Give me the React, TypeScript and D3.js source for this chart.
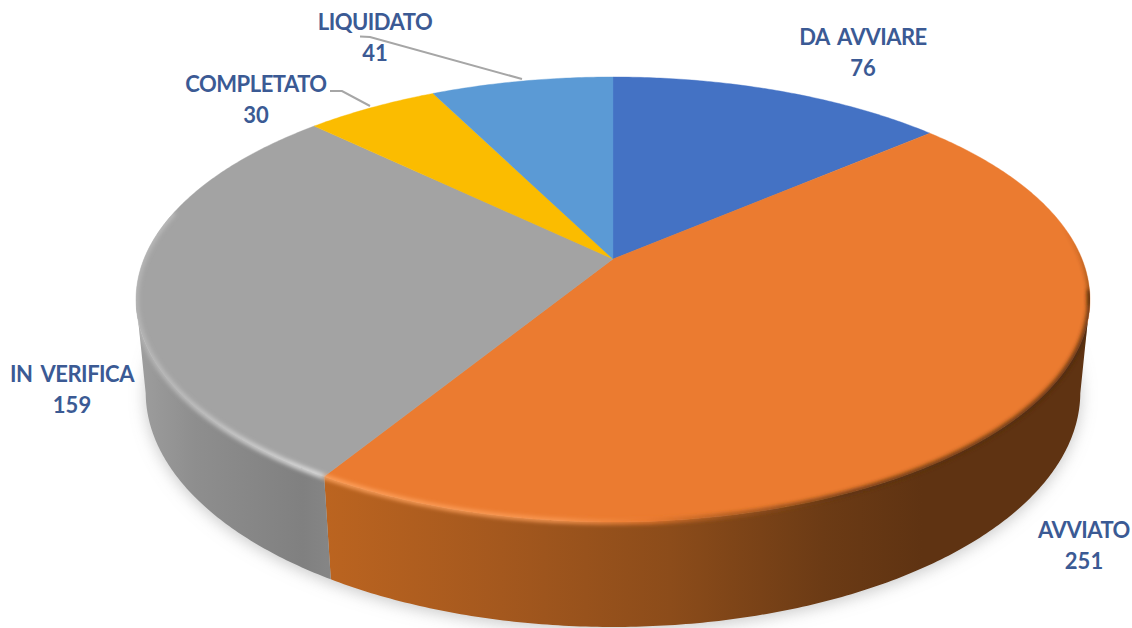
import React from "react";
import * as d3 from "d3";

const categories = ["DA AVVIARE", "AVVIATO", "IN VERIFICA", "COMPLETATO", "LIQUIDATO"];
const values = [76, 251, 159, 30, 41];
const palette = ["#4472c4", "#eb7b30", "#a3a3a3", "#fbbc00", "#5b9ad5"];
const labelCentres: [number, number][] = [[863, 37], [1084, 530], [72, 374], [256, 84], [375, 22]];
const leaderLines: ([number, number][] | null)[] = [
  null, null, null,
  [[330, 91], [342, 91], [370, 106]],
  [[360, 36.5], [370, 37], [522, 79]],
];

const W = 1132, H = 628;
const CX = 613, R = 469, APEX_Y = 259, A = 168, C = -0.182, DROP = 98.4, DEPTH = 0.02;

// circle -> screen, with the perspective of the tilted 3D pie; h = 0 top rim, 1 bottom rim
const project = (theta: number, h: number): [number, number] => {
  const u = Math.sin(theta), v = -Math.cos(theta);
  const d = 1 + C * v + DEPTH * h;
  return [CX + (R * u) / d, (A * v + APEX_Y + DROP * h) / d];
};
const line = d3.line<[number, number]>().x(p => p[0]).y(p => p[1]);
const arcPoints = (a0: number, a1: number, h: number) =>
  d3.range(0, 1.0001, 1 / Math.max(2, Math.ceil(Math.abs(a1 - a0) / 0.01))).map(t => project(a0 + (a1 - a0) * t, h));
const deg = (d: number) => (d * Math.PI) / 180;

const arcs = d3.pie<number>().sort(null)(values);
// only the front of the wall can be seen; its ends are the silhouette of the drum
const FRONT_START = deg(100.5), FRONT_END = deg(259.5);

export default function App() {
  const bottomDisc = line(arcPoints(0, Math.PI * 2, 1))! + "Z";
  const topDisc = line(arcPoints(0, Math.PI * 2, 0))! + "Z";
  const frontWall = line([...arcPoints(FRONT_START, FRONT_END, 0), ...arcPoints(FRONT_START, FRONT_END, 1).reverse()])! + "Z";
  const [a1, a2] = [arcs[1], arcs[2]];
  return (
    <svg width={W} height={H} style={{ position: "fixed", left: 0, top: 0, background: "#fff" }}>
      <defs>
        <clipPath id="drum">
          <path d={topDisc} />
          <path d={frontWall} />
        </clipPath>
        <filter id="shadow" x="-10%" y="-10%" width="120%" height="130%">
          <feGaussianBlur stdDeviation="8" />
        </filter>
        <filter id="soft" x="-5%" y="-5%" width="110%" height="110%">
          <feGaussianBlur stdDeviation="2.2" />
        </filter>
        <linearGradient id="side1" gradientUnits="userSpaceOnUse" x1="326" x2="1090" y1="0" y2="0">
          <stop offset="0" stopColor="#bb6420" />
          <stop offset="0.23" stopColor="#a4581e" />
          <stop offset="0.45" stopColor="#8c4c1a" />
          <stop offset="0.65" stopColor="#6c3b15" />
          <stop offset="0.78" stopColor="#5f3312" />
          <stop offset="1" stopColor="#5f3312" />
        </linearGradient>
        <linearGradient id="side2" gradientUnits="userSpaceOnUse" x1="136" x2="332" y1="0" y2="0">
          <stop offset="0" stopColor="#9e9e9e" />
          <stop offset="0.3" stopColor="#8e8e8e" />
          <stop offset="0.85" stopColor="#808080" />
          <stop offset="1" stopColor="#868686" />
        </linearGradient>
        <linearGradient id="rimOrange" gradientUnits="userSpaceOnUse" x1="326" x2="1090" y1="0" y2="0">
          <stop offset="0" stopColor="#ffa460" />
          <stop offset="0.3" stopColor="#fa9a55" />
          <stop offset="0.42" stopColor="#eb7b30" />
          <stop offset="0.52" stopColor="#a85a20" />
          <stop offset="0.68" stopColor="#5f3312" />
          <stop offset="1" stopColor="#4f2a0e" />
        </linearGradient>
        <linearGradient id="rimDark" gradientUnits="userSpaceOnUse" x1="0" x2="0" y1="225" y2="310">
          <stop offset="0" stopColor="#5f3312" stopOpacity="0" />
          <stop offset="1" stopColor="#4f2a0e" />
        </linearGradient>
        <linearGradient id="rimGrey" gradientUnits="userSpaceOnUse" x1="136" x2="326" y1="0" y2="0">
          <stop offset="0" stopColor="#c4c4c4" stopOpacity="0.6" />
          <stop offset="0.3" stopColor="#c0c0c0" />
          <stop offset="0.95" stopColor="#dedede" />
          <stop offset="1" stopColor="#d4d4d4" />
        </linearGradient>
      </defs>

      {/* soft shadow under the pie */}
      <path d={bottomDisc} fill="#9a9a9a" fillOpacity={0.55} filter="url(#shadow)" transform="translate(0,3)" />

      {/* side walls */}
      {arcs.map((a, i) => {
        const s = Math.max(a.startAngle, FRONT_START), e = Math.min(a.endAngle, FRONT_END);
        if (e <= s) return null;
        const top = arcPoints(s, e, 0);
        const bottom = arcPoints(s, e, 1).reverse();
        const fill = i === 1 ? "url(#side1)" : i === 2 ? "url(#side2)" : palette[i];
        return <path key={i} d={line([...top, ...bottom])! + "Z"} fill={fill} />;
      })}

      {/* top face */}
      {arcs.map((a, i) => {
        const pts: [number, number][] = [[CX, APEX_Y], ...arcPoints(a.startAngle, a.endAngle, 0)];
        return <path key={i} d={line(pts)! + "Z"} fill={palette[i]} stroke={palette[i]} strokeWidth={0.4} />;
      })}

      {/* bevel along the front rim, kept inside the drum's outline */}
      <g clipPath="url(#drum)">
        <path d={line(arcPoints(deg(98), a1.endAngle, 0))!} fill="none" stroke="url(#rimOrange)" strokeWidth={4.5} filter="url(#soft)" />
        <path d={line(arcPoints(deg(75), deg(102), 0))!} fill="none" stroke="url(#rimDark)" strokeWidth={3} filter="url(#soft)" />
        <path d={line(arcPoints(a2.startAngle, deg(283), 0))!} fill="none" stroke="url(#rimGrey)" strokeWidth={5} filter="url(#soft)" />
      </g>

      {/* leader lines */}
      {leaderLines.map((l, i) => l && <path key={i} d={line(l)!} fill="none" stroke="#a6a6a6" strokeWidth={2} />)}

      {/* labels */}
      {categories.map((c, i) => (
        <text key={c} x={labelCentres[i][0]} y={labelCentres[i][1]} textAnchor="middle" fontFamily="Lato" fontWeight={700} fontSize={22} fill="#3b5a94">
          <tspan x={labelCentres[i][0]} dy="7.5" letterSpacing={-0.5} wordSpacing={4}>{c}</tspan>
          <tspan x={labelCentres[i][0]} dy="31">{values[i]}</tspan>
        </text>
      ))}
    </svg>
  );
}
